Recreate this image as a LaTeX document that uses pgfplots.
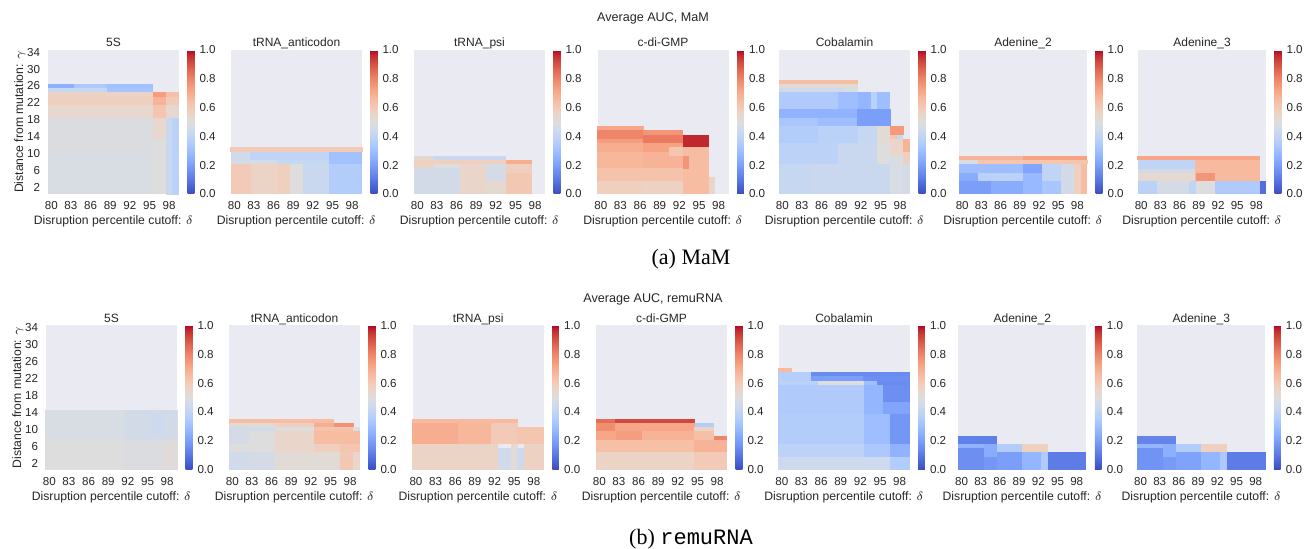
\documentclass[border=0pt]{standalone}
\usepackage{fontspec}
\setmainfont{Liberation Sans}
\newfontfamily\capserif{Liberation Serif}
\newfontfamily\captt{Liberation Mono}
\usepackage{pgfplots}
\pgfplotsset{compat=1.18}
\pgfkeys{/pgf/number format/assume math mode=true}

\definecolor{bgc}{HTML}{EAEAF2}
\definecolor{txt}{HTML}{262626}

% matplotlib coolwarm
\pgfplotsset{colormap={coolwarm}{
  rgb255=(59,76,192) rgb255=(68,90,204) rgb255=(77,104,215) rgb255=(87,117,225)
  rgb255=(98,130,234) rgb255=(108,142,241) rgb255=(119,154,247) rgb255=(130,165,251)
  rgb255=(141,176,254) rgb255=(152,185,255) rgb255=(163,194,255) rgb255=(174,201,253)
  rgb255=(184,208,249) rgb255=(194,213,244) rgb255=(204,217,238) rgb255=(213,219,230)
  rgb255=(221,221,221) rgb255=(229,216,209) rgb255=(236,211,197) rgb255=(241,204,185)
  rgb255=(245,196,173) rgb255=(247,187,160) rgb255=(247,177,148) rgb255=(247,166,135)
  rgb255=(244,154,123) rgb255=(241,141,111) rgb255=(236,127,99) rgb255=(229,112,88)
  rgb255=(222,96,77) rgb255=(213,80,66) rgb255=(203,62,56) rgb255=(192,40,47)
  rgb255=(180,4,38)}}

% one heatmap cell, lower-left corner at the data point; blk={columns}{rows} stretches it
\newcommand\cw{3.275pt}
\newcommand\ch{2.1176pt}
\pgfdeclareplotmark{cell}{%
  \pgfpathrectangle{\pgfpoint{-0.015pt}{-0.015pt}}{\pgfpoint{\cw+0.03pt}{\ch+0.03pt}}%
  \pgfusepathqfill}

\pgfplotsset{
  heat/.style={
    scale only axis, width=65.5pt, height=72pt, anchor=north west,
    xmin=79.5, xmax=99.5, ymin=0.5, ymax=34.5,
    axis background/.style={fill=bgc},
    axis line style={draw=none},
    major tick style={draw=none}, minor tick style={draw=none},
    xtick={80,83,86,89,92,95,98}, ytick=\empty,
    tick label style={font=\fontsize{5.8}{6}\selectfont, text=txt},
    xticklabel style={yshift=-0.4pt},
    yticklabel style={xshift=-0.4pt},
    title style={font=\fontsize{6}{7}\selectfont, text=txt, at={(0.5,1)}, anchor=base, yshift=-4.3pt, inner sep=0pt},
    xlabel={Disruption percentile cutoff: $\delta$},
    xlabel style={font=\fontsize{6.1}{7}\selectfont, text=txt, at={(axis description cs:0.5,0)}, anchor=north, yshift=-10.8pt, inner sep=0pt},
    ylabel style={font=\fontsize{6.1}{7}\selectfont, text=txt, at={(axis description cs:-0.19,0.5)}, anchor=base, inner sep=0pt},
    colormap name=coolwarm, point meta min=0, point meta max=1,
    colorbar,
    colorbar style={
      scale only axis, width=3.35pt, height=72pt,
      at={(parent axis.north east)}, anchor=north west, xshift=-4.25pt,
      axis line style={draw=none}, major tick style={draw=none},
      ytick={0,0.2,0.4,0.6,0.8,1},
      yticklabel style={font=\fontsize{5.8}{6}\selectfont, text=txt, xshift=-0.9pt,
        /pgf/number format/.cd, fixed, fixed zerofill, precision=1},
    },
  },
  blk/.style 2 args={scatter, only marks, mark=cell, point meta=explicit,
    mark options={xscale=#1, yscale=#2},
    scatter/use mapped color={draw=mapped color, fill=mapped color}},
}

\begin{document}
\begin{tikzpicture}
\useasboundingbox (0,0) rectangle (658pt,-274.5pt);

% ================= (a) MaM =================
\node[font=\fontsize{6.3}{7}\selectfont, text=txt, anchor=base] at (326.5pt,-11pt) {Average AUC, MaM};
\renewcommand\cw{3.275pt}
\begin{axis}[heat, at={(24pt,-25pt)}, title={5S}, ytick={2,6,...,34}, ylabel={Distance from mutation: $\gamma$}]
\addplot[blk={16}{10}] coordinates {(79.5,0.5) [0.48]};
\addplot[blk={16}{8}] coordinates {(79.5,10.5) [0.49]};
\addplot[blk={2}{13}] coordinates {(95.5,0.5) [0.50]};
\addplot[blk={2}{5}] coordinates {(95.5,13.5) [0.54]};
\addplot[blk={1}{18}] coordinates {(97.5,0.5) [0.43]};
\addplot[blk={1}{18}] coordinates {(98.5,0.5) [0.38]};
\addplot[blk={16}{3}] coordinates {(79.5,18.5) [0.54]};
\addplot[blk={2}{3}] coordinates {(95.5,18.5) [0.62]};
\addplot[blk={2}{3}] coordinates {(97.5,18.5) [0.53]};
\addplot[blk={16}{2}] coordinates {(79.5,21.5) [0.58]};
\addplot[blk={2}{2}] coordinates {(95.5,21.5) [0.68]};
\addplot[blk={2}{2}] coordinates {(97.5,21.5) [0.60]};
\addplot[blk={16}{1}] coordinates {(79.5,23.5) [0.56]};
\addplot[blk={2}{1}] coordinates {(95.5,23.5) [0.74]};
\addplot[blk={2}{1}] coordinates {(97.5,23.5) [0.64]};
\addplot[blk={9}{1}] coordinates {(79.5,24.5) [0.42]};
\addplot[blk={7}{1}] coordinates {(88.5,24.5) [0.32]};
\addplot[blk={4}{1}] coordinates {(79.5,25.5) [0.25]};
\addplot[blk={5}{1}] coordinates {(83.5,25.5) [0.34]};
\addplot[blk={7}{1}] coordinates {(88.5,25.5) [0.31]};
\end{axis}
\begin{axis}[heat, at={(115.5pt,-25pt)}, title={tRNA\_anticodon}]
\addplot[blk={20}{1}] coordinates {(79.5,10.5) [0.60]};
\addplot[blk={3}{2}] coordinates {(79.5,8.5) [0.45]};
\addplot[blk={12}{2}] coordinates {(82.5,8.5) [0.40]};
\addplot[blk={5}{3}] coordinates {(94.5,7.5) [0.31]};
\addplot[blk={7}{1}] coordinates {(79.5,7.5) [0.47]};
\addplot[blk={8}{1}] coordinates {(86.5,7.5) [0.42]};
\addplot[blk={3}{7}] coordinates {(79.5,0.5) [0.60]};
\addplot[blk={4}{7}] coordinates {(82.5,0.5) [0.56]};
\addplot[blk={2}{7}] coordinates {(86.5,0.5) [0.58]};
\addplot[blk={2}{7}] coordinates {(88.5,0.5) [0.50]};
\addplot[blk={4}{7}] coordinates {(90.5,0.5) [0.43]};
\addplot[blk={5}{7}] coordinates {(94.5,0.5) [0.36]};
\end{axis}
\begin{axis}[heat, at={(207pt,-25pt)}, title={tRNA\_psi}]
\addplot[blk={3}{1}] coordinates {(79.5,8.5) [0.53]};
\addplot[blk={11}{1}] coordinates {(82.5,8.5) [0.43]};
\addplot[blk={14}{1}] coordinates {(79.5,7.5) [0.58]};
\addplot[blk={4}{1}] coordinates {(93.5,7.5) [0.70]};
\addplot[blk={3}{1}] coordinates {(79.5,6.5) [0.56]};
\addplot[blk={4}{1}] coordinates {(82.5,6.5) [0.50]};
\addplot[blk={7}{6}] coordinates {(79.5,0.5) [0.46]};
\addplot[blk={4}{7}] coordinates {(86.5,0.5) [0.55]};
\addplot[blk={3}{4}] coordinates {(90.5,3.5) [0.47]};
\addplot[blk={3}{3}] coordinates {(90.5,0.5) [0.53]};
\addplot[blk={4}{2}] coordinates {(93.5,5.5) [0.58]};
\addplot[blk={4}{5}] coordinates {(93.5,0.5) [0.61]};
\end{axis}
\begin{axis}[heat, at={(298.75pt,-25pt)}, title={c-di-GMP}]
\addplot[blk={7}{1}] coordinates {(79.5,15.5) [0.72]};
\addplot[blk={7}{2}] coordinates {(79.5,13.5) [0.80]};
\addplot[blk={7}{1}] coordinates {(79.5,12.5) [0.74]};
\addplot[blk={7}{2}] coordinates {(79.5,10.5) [0.70]};
\addplot[blk={7}{4}] coordinates {(79.5,6.5) [0.67]};
\addplot[blk={7}{3}] coordinates {(79.5,3.5) [0.63]};
\addplot[blk={7}{3}] coordinates {(79.5,0.5) [0.58]};
\addplot[blk={6}{1}] coordinates {(86.5,14.5) [0.76]};
\addplot[blk={6}{2}] coordinates {(86.5,12.5) [0.82]};
\addplot[blk={6}{2}] coordinates {(86.5,10.5) [0.73]};
\addplot[blk={6}{4}] coordinates {(86.5,6.5) [0.68]};
\addplot[blk={6}{3}] coordinates {(86.5,3.5) [0.63]};
\addplot[blk={6}{3}] coordinates {(86.5,0.5) [0.57]};
\addplot[blk={2}{2}] coordinates {(90.5,9.5) [0.62]};
\addplot[blk={4}{3}] coordinates {(92.5,11.5) [0.97]};
\addplot[blk={4}{11}] coordinates {(92.5,0.5) [0.65]};
\addplot[blk={1}{3}] coordinates {(92.5,6.5) [0.76]};
\addplot[blk={1}{4}] coordinates {(96.5,0.5) [0.55]};
\end{axis}
\begin{axis}[heat, at={(389.5pt,-25pt)}, title={Cobalamin}]
\addplot[blk={12}{1}] coordinates {(79.5,26.5) [0.65]};
\addplot[blk={12}{1}] coordinates {(79.5,25.5) [0.52]};
\addplot[blk={10}{1}] coordinates {(79.5,24.5) [0.45]};
\addplot[blk={2}{1}] coordinates {(89.5,24.5) [0.48]};
\addplot[blk={9}{4}] coordinates {(79.5,20.5) [0.35]};
\addplot[blk={3}{4}] coordinates {(88.5,20.5) [0.30]};
\addplot[blk={2}{4}] coordinates {(91.5,20.5) [0.27]};
\addplot[blk={1}{4}] coordinates {(93.5,20.5) [0.38]};
\addplot[blk={2}{4}] coordinates {(94.5,20.5) [0.30]};
\addplot[blk={12}{2}] coordinates {(79.5,18.5) [0.26]};
\addplot[blk={6}{2}] coordinates {(79.5,16.5) [0.33]};
\addplot[blk={6}{2}] coordinates {(85.5,16.5) [0.30]};
\addplot[blk={5}{4}] coordinates {(91.5,16.5) [0.20]};
\addplot[blk={6}{4}] coordinates {(79.5,12.5) [0.36]};
\addplot[blk={6}{4}] coordinates {(85.5,12.5) [0.38]};
\addplot[blk={3}{4}] coordinates {(91.5,12.5) [0.42]};
\addplot[blk={2}{4}] coordinates {(94.5,12.5) [0.52]};
\addplot[blk={9}{5}] coordinates {(79.5,7.5) [0.39]};
\addplot[blk={6}{5}] coordinates {(88.5,7.5) [0.43]};
\addplot[blk={2}{5}] coordinates {(94.5,7.5) [0.50]};
\addplot[blk={5}{7}] coordinates {(79.5,0.5) [0.42]};
\addplot[blk={12}{7}] coordinates {(84.5,0.5) [0.43]};
\addplot[blk={2}{2}] coordinates {(96.5,14.5) [0.75]};
\addplot[blk={1}{1}] coordinates {(96.5,13.5) [0.62]};
\addplot[blk={1}{1}] coordinates {(97.5,13.5) [0.42]};
\addplot[blk={2}{4}] coordinates {(96.5,9.5) [0.55]};
\addplot[blk={2}{9}] coordinates {(96.5,0.5) [0.48]};
\addplot[blk={1}{3}] coordinates {(98.5,10.5) [0.68]};
\addplot[blk={1}{3}] coordinates {(98.5,7.5) [0.58]};
\addplot[blk={1}{7}] coordinates {(98.5,0.5) [0.47]};
\end{axis}
\renewcommand\cw{3.2pt}
\begin{axis}[heat, width=64pt, at={(479.5pt,-25pt)}, title={Adenine\_2}]
\addplot[blk={10}{1}] coordinates {(79.5,8.5) [0.68]};
\addplot[blk={10}{1}] coordinates {(89.5,8.5) [0.73]};
\addplot[blk={3}{1}] coordinates {(79.5,7.5) [0.48]};
\addplot[blk={17}{1}] coordinates {(82.5,7.5) [0.62]};
\addplot[blk={10}{2}] coordinates {(79.5,5.5) [0.30]};
\addplot[blk={3}{2}] coordinates {(79.5,3.5) [0.24]};
\addplot[blk={7}{2}] coordinates {(82.5,3.5) [0.38]};
\addplot[blk={5}{3}] coordinates {(79.5,0.5) [0.20]};
\addplot[blk={5}{3}] coordinates {(84.5,0.5) [0.24]};
\addplot[blk={3}{2}] coordinates {(89.5,5.5) [0.22]};
\addplot[blk={3}{5}] coordinates {(89.5,0.5) [0.28]};
\addplot[blk={3}{4}] coordinates {(92.5,3.5) [0.40]};
\addplot[blk={3}{3}] coordinates {(92.5,0.5) [0.33]};
\addplot[blk={2}{7}] coordinates {(95.5,0.5) [0.46]};
\addplot[blk={1}{7}] coordinates {(97.5,0.5) [0.58]};
\addplot[blk={1}{7}] coordinates {(98.5,0.5) [0.65]};
\end{axis}
\begin{axis}[heat, width=64pt, at={(569pt,-25pt)}, title={Adenine\_3}]
\addplot[blk={19}{1}] coordinates {(79.5,8.5) [0.72]};
\addplot[blk={9}{2}] coordinates {(79.5,6.5) [0.40]};
\addplot[blk={9}{1}] coordinates {(79.5,5.5) [0.46]};
\addplot[blk={9}{2}] coordinates {(79.5,3.5) [0.53]};
\addplot[blk={10}{5}] coordinates {(88.5,3.5) [0.66]};
\addplot[blk={3}{2}] coordinates {(88.5,3.5) [0.76]};
\addplot[blk={3}{3}] coordinates {(79.5,0.5) [0.38]};
\addplot[blk={5}{3}] coordinates {(82.5,0.5) [0.47]};
\addplot[blk={1}{3}] coordinates {(87.5,0.5) [0.40]};
\addplot[blk={3}{3}] coordinates {(88.5,0.5) [0.50]};
\addplot[blk={7}{3}] coordinates {(91.5,0.5) [0.35]};
\addplot[blk={1}{3}] coordinates {(98.5,0.5) [0.08]};
\end{axis}
\node[font=\capserif\fontsize{11}{12}\selectfont, anchor=base] at (345.5pt,-132.4pt) {(a) MaM};

% ================= (b) remuRNA =================
\node[font=\fontsize{6.3}{7}\selectfont, text=txt, anchor=base] at (326.5pt,-151.5pt) {Average AUC, remuRNA};
\renewcommand\cw{3.275pt}
\begin{axis}[heat, at={(23pt,-162.75pt)}, title={5S}, ytick={2,6,...,34}, ylabel={Distance from mutation: $\gamma$}]
\addplot[blk={20}{14}] coordinates {(79.5,0.5) [0.49]};
\addplot[blk={12}{7}] coordinates {(79.5,7.5) [0.48]};
\addplot[blk={8}{7}] coordinates {(91.5,7.5) [0.46]};
\addplot[blk={2}{5}] coordinates {(95.5,8.5) [0.44]};
\addplot[blk={12}{7}] coordinates {(79.5,0.5) [0.50]};
\addplot[blk={6}{7}] coordinates {(91.5,0.5) [0.49]};
\addplot[blk={2}{7}] coordinates {(97.5,0.5) [0.51]};
\end{axis}
\begin{axis}[heat, at={(114.5pt,-162.75pt)}, title={tRNA\_anticodon}]
\addplot[blk={16}{1}] coordinates {(79.5,11.5) [0.65]};
\addplot[blk={7}{1}] coordinates {(79.5,10.5) [0.52]};
\addplot[blk={6}{1}] coordinates {(86.5,10.5) [0.58]};
\addplot[blk={3}{1}] coordinates {(92.5,10.5) [0.70]};
\addplot[blk={3}{1}] coordinates {(95.5,10.5) [0.77]};
\addplot[blk={7}{1}] coordinates {(79.5,9.5) [0.46]};
\addplot[blk={6}{1}] coordinates {(86.5,9.5) [0.50]};
\addplot[blk={6}{1}] coordinates {(92.5,9.5) [0.63]};
\addplot[blk={1}{1}] coordinates {(98.5,9.5) [0.48]};
\addplot[blk={3}{3}] coordinates {(79.5,6.5) [0.47]};
\addplot[blk={4}{3}] coordinates {(82.5,6.5) [0.50]};
\addplot[blk={6}{3}] coordinates {(86.5,6.5) [0.55]};
\addplot[blk={7}{3}] coordinates {(92.5,6.5) [0.65]};
\addplot[blk={7}{2}] coordinates {(79.5,4.5) [0.50]};
\addplot[blk={6}{2}] coordinates {(86.5,4.5) [0.55]};
\addplot[blk={4}{2}] coordinates {(92.5,4.5) [0.58]};
\addplot[blk={3}{2}] coordinates {(96.5,4.5) [0.62]};
\addplot[blk={3}{4}] coordinates {(79.5,0.5) [0.45]};
\addplot[blk={4}{4}] coordinates {(82.5,0.5) [0.47]};
\addplot[blk={6}{4}] coordinates {(86.5,0.5) [0.52]};
\addplot[blk={4}{4}] coordinates {(92.5,0.5) [0.52]};
\addplot[blk={2}{4}] coordinates {(96.5,0.5) [0.61]};
\addplot[blk={1}{4}] coordinates {(98.5,0.5) [0.55]};
\end{axis}
\begin{axis}[heat, at={(206.35pt,-162.75pt)}, title={tRNA\_psi}]
\addplot[blk={16}{1}] coordinates {(79.5,11.5) [0.66]};
\addplot[blk={7}{5}] coordinates {(79.5,6.5) [0.70]};
\addplot[blk={5}{5}] coordinates {(86.5,6.5) [0.67]};
\addplot[blk={4}{5}] coordinates {(91.5,6.5) [0.60]};
\addplot[blk={4}{4}] coordinates {(95.5,6.5) [0.62]};
\addplot[blk={13}{6}] coordinates {(79.5,0.5) [0.56]};
\addplot[blk={2}{5}] coordinates {(92.5,0.5) [0.45]};
\addplot[blk={1}{6}] coordinates {(94.5,0.5) [0.52]};
\addplot[blk={1}{5}] coordinates {(95.5,0.5) [0.44]};
\addplot[blk={3}{6}] coordinates {(96.5,0.5) [0.57]};
\end{axis}
\begin{axis}[heat, at={(298pt,-162.75pt)}, title={c-di-GMP}]
\addplot[blk={3}{1}] coordinates {(79.5,11.5) [0.85]};
\addplot[blk={12}{1}] coordinates {(82.5,11.5) [0.92]};
\addplot[blk={3}{1}] coordinates {(94.5,10.5) [0.36]};
\addplot[blk={3}{2}] coordinates {(79.5,9.5) [0.78]};
\addplot[blk={12}{2}] coordinates {(82.5,9.5) [0.72]};
\addplot[blk={3}{1}] coordinates {(94.5,9.5) [0.56]};
\addplot[blk={3}{2}] coordinates {(79.5,7.5) [0.72]};
\addplot[blk={4}{2}] coordinates {(82.5,7.5) [0.74]};
\addplot[blk={8}{2}] coordinates {(86.5,7.5) [0.68]};
\addplot[blk={3}{2}] coordinates {(94.5,7.5) [0.64]};
\addplot[blk={2}{1}] coordinates {(97.5,7.5) [0.80]};
\addplot[blk={15}{3}] coordinates {(79.5,4.5) [0.64]};
\addplot[blk={5}{3}] coordinates {(94.5,4.5) [0.68]};
\addplot[blk={15}{4}] coordinates {(79.5,0.5) [0.56]};
\addplot[blk={5}{4}] coordinates {(94.5,0.5) [0.60]};
\end{axis}
\begin{axis}[heat, at={(389.25pt,-162.75pt)}, title={Cobalamin}]
\addplot[blk={2}{1}] coordinates {(79.5,23.5) [0.66]};
\addplot[blk={5}{2}] coordinates {(79.5,21.5) [0.37]};
\addplot[blk={15}{1}] coordinates {(84.5,22.5) [0.15]};
\addplot[blk={8}{1}] coordinates {(84.5,21.5) [0.20]};
\addplot[blk={7}{1}] coordinates {(92.5,21.5) [0.16]};
\addplot[blk={6}{1}] coordinates {(79.5,20.5) [0.38]};
\addplot[blk={7}{1}] coordinates {(85.5,20.5) [0.50]};
\addplot[blk={2}{1}] coordinates {(92.5,20.5) [0.30]};
\addplot[blk={5}{1}] coordinates {(94.5,20.5) [0.15]};
\addplot[blk={13}{7}] coordinates {(79.5,13.5) [0.35]};
\addplot[blk={3}{7}] coordinates {(92.5,13.5) [0.27]};
\addplot[blk={4}{4}] coordinates {(95.5,16.5) [0.16]};
\addplot[blk={4}{3}] coordinates {(95.5,13.5) [0.22]};
\addplot[blk={13}{7}] coordinates {(79.5,6.5) [0.36]};
\addplot[blk={4}{7}] coordinates {(92.5,6.5) [0.30]};
\addplot[blk={3}{7}] coordinates {(96.5,6.5) [0.18]};
\addplot[blk={13}{3}] coordinates {(79.5,3.5) [0.39]};
\addplot[blk={4}{3}] coordinates {(92.5,3.5) [0.34]};
\addplot[blk={3}{3}] coordinates {(96.5,3.5) [0.26]};
\addplot[blk={17}{3}] coordinates {(79.5,0.5) [0.44]};
\addplot[blk={3}{3}] coordinates {(96.5,0.5) [0.36]};
\end{axis}
\renewcommand\cw{3.2pt}
\begin{axis}[heat, width=64pt, at={(479.15pt,-162.75pt)}, title={Adenine\_2}]
\addplot[blk={6}{2}] coordinates {(79.5,6.5) [0.12]};
\addplot[blk={4}{1}] coordinates {(79.5,5.5) [0.26]};
\addplot[blk={2}{3}] coordinates {(83.5,3.5) [0.24]};
\addplot[blk={4}{5}] coordinates {(79.5,0.5) [0.16]};
\addplot[blk={2}{3}] coordinates {(83.5,0.5) [0.18]};
\addplot[blk={4}{2}] coordinates {(85.5,4.5) [0.36]};
\addplot[blk={4}{4}] coordinates {(85.5,0.5) [0.20]};
\addplot[blk={4}{2}] coordinates {(89.5,4.5) [0.58]};
\addplot[blk={3}{4}] coordinates {(89.5,0.5) [0.27]};
\addplot[blk={1}{4}] coordinates {(92.5,0.5) [0.35]};
\addplot[blk={6}{4}] coordinates {(93.5,0.5) [0.11]};
\end{axis}
\begin{axis}[heat, width=64pt, at={(568.65pt,-162.75pt)}, title={Adenine\_3}]
\addplot[blk={6}{2}] coordinates {(79.5,6.5) [0.13]};
\addplot[blk={4}{1}] coordinates {(79.5,5.5) [0.27]};
\addplot[blk={2}{3}] coordinates {(83.5,3.5) [0.25]};
\addplot[blk={4}{5}] coordinates {(79.5,0.5) [0.17]};
\addplot[blk={2}{3}] coordinates {(83.5,0.5) [0.19]};
\addplot[blk={4}{2}] coordinates {(85.5,4.5) [0.36]};
\addplot[blk={4}{4}] coordinates {(85.5,0.5) [0.21]};
\addplot[blk={4}{2}] coordinates {(89.5,4.5) [0.58]};
\addplot[blk={3}{4}] coordinates {(89.5,0.5) [0.27]};
\addplot[blk={1}{4}] coordinates {(92.5,0.5) [0.34]};
\addplot[blk={6}{4}] coordinates {(93.5,0.5) [0.11]};
\end{axis}
\node[font=\fontsize{11}{12}\selectfont, anchor=base] at (345.5pt,-272.3pt) {\capserif (b) \captt remuRNA};
\end{tikzpicture}
\end{document}
